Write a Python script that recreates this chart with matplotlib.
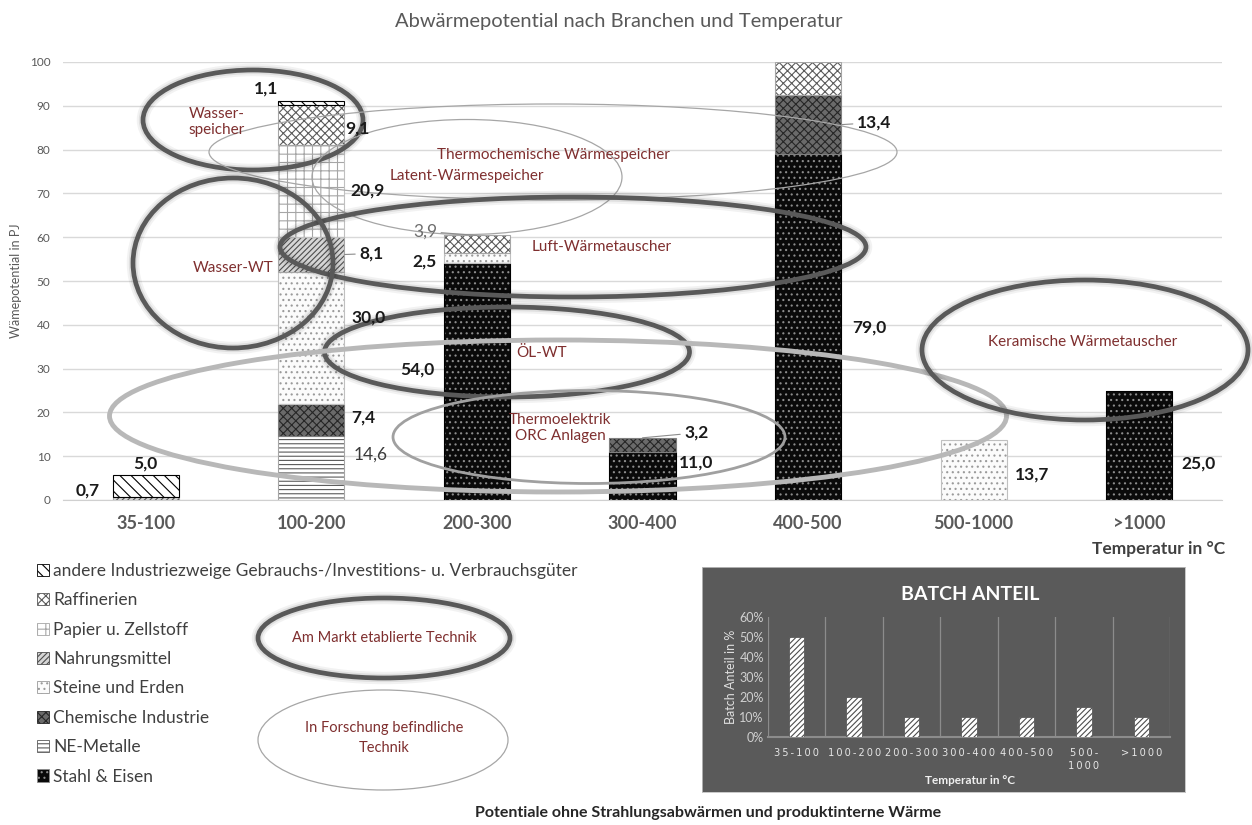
import matplotlib
matplotlib.use("Agg")
import matplotlib.pyplot as plt
from matplotlib.patches import Ellipse, Patch
from matplotlib.transforms import Affine2D
import numpy as np

plt.rcParams['font.family'] = ['Lato', 'DejaVu Sans']
plt.rcParams['hatch.linewidth'] = 0.8

# ---------------------------------------------------------------- data
categories = ["35-100", "100-200", "200-300", "300-400", "400-500", "500-1000", ">1000"]

stahl_eisen    = [0.0, 0.0, 54.0, 11.0, 79.0, 0.0, 25.0]
ne_metalle     = [0.0, 14.6, 0.0, 0.0, 0.0, 0.0, 0.0]
chemie         = [0.0, 7.4, 0.0, 3.2, 13.4, 0.0, 0.0]
steine_erden   = [0.0, 30.0, 2.5, 0.0, 0.0, 13.7, 0.0]
nahrungsmittel = [0.7, 8.1, 0.0, 0.0, 0.0, 0.0, 0.0]
papier         = [0.0, 20.9, 0.0, 0.0, 0.0, 0.0, 0.0]
raffinerien    = [0.0, 9.1, 3.9, 0.0, 7.6, 0.0, 0.0]
andere         = [5.0, 1.1, 0.0, 0.0, 0.0, 0.0, 0.0]

series_names = [
    "Stahl & Eisen",
    "NE-Metalle",
    "Chemische Industrie",
    "Steine und Erden",
    "Nahrungsmittel",
    "Papier u. Zellstoff",
    "Raffinerien",
    "andere Industriezweige Gebrauchs-/Investitions- u. Verbrauchsgüter",
]
series_values = [stahl_eisen, ne_metalle, chemie, steine_erden,
                 nahrungsmittel, papier, raffinerien, andere]

batch_share = [50, 20, 10, 10, 10, 15, 10]   # percent

# ---------------------------------------------------------------- styles
# face colour, hatch, hatch colour, outline colour
styles = [
    ('#0a0a0a', '...',    '#8c8c8c', '#000000'),
    ('#ffffff', '----',   '#5a5a5a', '#a6a6a6'),
    ('#6a6a6a', 'xxxx',   '#262626', '#7f7f7f'),
    ('#fbfbfb', '...',    '#9a9a9a', '#c0c0c0'),
    ('#d6d6d6', '//////', '#4d4d4d', '#a6a6a6'),
    ('#ffffff', '++',     '#a6a6a6', '#c0c0c0'),
    ('#ffffff', 'xxxx',   '#5a5a5a', '#a6a6a6'),
    ('#ffffff', '\\\\\\', '#000000', '#000000'),
]

W, H = 1252, 825
fig = plt.figure(figsize=(W / 100, H / 100), dpi=100)
# layout transform in pixels measured from the top-left corner
pix = Affine2D().scale(1 / W, -1 / H).translate(0, 1) + fig.transFigure

def fx(x):
    return x / W

def fy(y):
    return 1 - y / H

# ---------------------------------------------------------------- main chart
ax = fig.add_axes([fx(63), fy(500), (1222 - 63) / W, 438 / H])
x = np.arange(len(categories))
bar_w = 0.4
bottom = np.zeros(len(categories))
for vals, (face, hatch, hcol, outline) in zip(series_values, styles):
    vals = np.asarray(vals)
    idx = np.nonzero(vals > 0)[0]
    ax.bar(x[idx], vals[idx], bar_w, bottom=bottom[idx], color=face,
           edgecolor=hcol, hatch=hatch, linewidth=0, zorder=2)
    ax.bar(x[idx], vals[idx], bar_w, bottom=bottom[idx], fill=False,
           edgecolor=outline, linewidth=0.8, zorder=3)
    bottom += vals

ax.set_xlim(-0.5, len(categories) - 0.5)
ax.set_ylim(0, 100)
ax.set_yticks(np.arange(0, 101, 10))
ax.grid(axis='y', color='#d9d9d9', linewidth=1, zorder=0)
ax.set_axisbelow(True)
for s in ['top', 'right', 'left']:
    ax.spines[s].set_visible(False)
ax.spines['bottom'].set_color('#d0d0d0')
ax.tick_params(axis='y', length=0, pad=9, labelsize=8.5, labelcolor='#595959')
ax.tick_params(axis='x', length=0, pad=11, labelsize=13, labelcolor='#595959')
ax.set_xticks(x)
ax.set_xticklabels(categories, fontweight='bold')


def fmt(v):
    return f"{v:.1f}".replace('.', ',')


# value labels: (series, category, anchor, dx, dy, style, leader)
# anchor 'mid' = centre of the segment, 'edge' = right edge, 'top' = segment top
label_specs = [
    (4, 0, 'mid', -58, 8, 'b', False),
    (7, 0, 'mid', 0, 22, 'b', False),
    (7, 1, 'mid', -45, 14, 'b', False),
    (6, 1, 'mid', 46, -3, 'b', False),
    (5, 1, 'mid', 56, 0, 'b', False),
    (4, 1, 'edge', 27, 1, 'b', True),
    (3, 1, 'mid', 57, 20, 'b', False),
    (2, 1, 'mid', 52, 2, 'b', False),
    (1, 1, 'mid', 59, 13, 'n', False),
    (6, 2, 'top', -52, 4, 'g', True),
    (3, 2, 'mid', -52, -4, 'b', False),
    (0, 2, 'mid', -60, 12, 'b', False),
    (2, 3, 'top', 54, 5, 'b', True),
    (0, 3, 'mid', 54, 13, 'b', False),
    (2, 4, 'edge', 33, 2, 'b', True),
    (0, 4, 'mid', 61, -1, 'b', False),
    (3, 5, 'mid', 58, -5, 'b', False),
    (0, 6, 'mid', 59, -18, 'b', False),
]
cum = np.cumsum(np.vstack([np.zeros(len(categories))] + [np.asarray(v) for v in series_values]), axis=0)
for si, ci, anchor, dx, dy, st, leader in label_specs:
    v = series_values[si][ci]
    base = cum[si][ci]
    if anchor == 'mid':
        xy = (ci, base + v / 2)
    elif anchor == 'edge':
        xy = (ci + bar_w / 2, base + v / 2)
    else:
        xy = (ci, base + v)
    color = {'b': '#1a1a1a', 'n': '#3a3a3a', 'g': '#6e6e6e'}[st]
    weight = 'bold' if st == 'b' else 'normal'
    arrow = dict(arrowstyle='-', color='#8c8c8c', lw=0.8, shrinkA=1, shrinkB=0) if leader else None
    ax.annotate(fmt(v), xy=xy, xytext=(dx, dy), textcoords='offset pixels',
                ha='center', va='center', fontsize=12.5, fontweight=weight,
                color=color, arrowprops=arrow, zorder=7, annotation_clip=False)

# ---------------------------------------------------------------- technology ellipses
ellipse_kinds = {
    'market':   dict(color='#595959', lw=3.4, halo=True),
    'research': dict(color='#a6a6a6', lw=0.9, halo=False),
    'wide':     dict(color='#b8b8b8', lw=3.5, halo=False),
    'mid':      dict(color='#a0a0a0', lw=2.0, halo=False),
}


def draw_ellipse(container, cx, cy, w, h, kind, z=5):
    k = ellipse_kinds[kind]
    if k['halo']:
        for lw, a in [(9, 0.05), (6, 0.08)]:
            e = Ellipse((cx, cy), w, h, fill=False, edgecolor='black', alpha=a,
                        linewidth=lw, transform=pix, clip_on=False, zorder=z)
            container.add_artist(e) if container is fig else container.add_patch(e)
    e = Ellipse((cx, cy), w, h, fill=False, edgecolor=k['color'], linewidth=k['lw'],
                transform=pix, clip_on=False, zorder=z)
    container.add_artist(e) if container is fig else container.add_patch(e)


chart_ellipses = [
    (253, 120, 220, 100, 'market'),
    (553, 152, 688, 96, 'research'),
    (467, 177, 310, 115, 'research'),
    (573, 247, 586, 100, 'market'),
    (233, 263, 200, 170, 'market'),
    (507, 352, 365, 90, 'market'),
    (558, 416, 897, 152, 'wide'),
    (589, 437, 392, 93, 'mid'),
    (1085, 350, 326, 140, 'market'),
]
for cx, cy, w, h, kind in chart_ellipses:
    draw_ellipse(ax, cx, cy, w, h, kind)

tech_red = '#7f2f2f'
chart_notes = [
    ("Wasser-\nspeicher", 217, 122),
    ("Thermochemische Wärmespeicher", 553, 155),
    ("Latent-Wärmespeicher", 467, 176),
    ("Luft-Wärmetauscher", 602, 247),
    ("Wasser-WT", 233, 268),
    ("ÖL-WT", 542, 353),
    ("Thermoelektrik\nORC Anlagen", 560, 428),
    ("Keramische Wärmetauscher", 1083, 342),
]
for txt, tx, ty in chart_notes:
    ax.text(tx, ty, txt, transform=pix, ha='center', va='center', fontsize=11,
            color=tech_red, linespacing=1.15, zorder=8, clip_on=False)

# ---------------------------------------------------------------- figure texts
fig.text(fx(619), fy(22), "Abwärmepotential nach Branchen und Temperatur",
         ha='center', va='center', fontsize=14.5, color='#595959')
fig.text(fx(16), fy(281), "Wämepotential in PJ", rotation=90, ha='center',
         va='center', fontsize=9, color='#595959')
fig.text(fx(1225), fy(549), "Temperatur in °C", ha='right', va='center',
         fontsize=12.5, fontweight='bold', color='#404040')
fig.text(fx(708), fy(813), "Potentiale ohne Strahlungsabwärmen und produktinterne Wärme",
         ha='center', va='center', fontsize=11.5, fontweight='bold', color='#262626')

# legend (reverse stacking order)
handles = [Patch(facecolor=f, edgecolor=hc, hatch=h, linewidth=0.6)
           for f, h, hc, _ in styles]
fig.legend(handles[::-1], series_names[::-1], loc='upper left',
           bbox_to_anchor=(fx(30), fy(556)), frameon=False, fontsize=12.5,
           labelcolor='#404040', handlelength=0.7, handleheight=0.7,
           handletextpad=0.25, labelspacing=0.77, borderaxespad=0)

# legend ellipses
draw_ellipse(fig, 384, 638, 252, 80, 'market')
draw_ellipse(fig, 383, 740, 250, 100, 'research')
fig.text(fx(384), fy(638), "Am Markt etablierte Technik", ha='center', va='center',
         fontsize=10.5, color=tech_red)
fig.text(fx(384), fy(738), "In Forschung befindliche\nTechnik", ha='center',
         va='center', fontsize=10.5, color=tech_red, linespacing=1.5)

# ---------------------------------------------------------------- batch inset
bg = fig.add_axes([fx(702), fy(792), (1185 - 702) / W, (792 - 567) / H], zorder=1)
bg.set_facecolor('#5a5a5a')
bg.set_xticks([])
bg.set_yticks([])
for s in bg.spines.values():
    s.set_color('#bfbfbf')
    s.set_linewidth(0.6)

ins = fig.add_axes([fx(768), fy(737), (1170 - 768) / W, 120 / H], zorder=2)
ins.patch.set_alpha(0)
ins.bar(x, batch_share, 0.27, color='white', edgecolor='#4d4d4d',
        hatch='//////', linewidth=0.5, zorder=3)
ins.set_xlim(-0.5, len(categories) - 0.5)
ins.set_ylim(0, 60)
ins.set_yticks(np.arange(0, 61, 10))
ins.set_yticklabels([f"{v}%" for v in range(0, 61, 10)])
ins.set_xticks(x)


def spaced(label):
    lines = label.replace('-', '-\n') if len(label) > 7 else label
    return '\n'.join('\u2009'.join(line) for line in lines.split('\n'))


ins.set_xticklabels([spaced(c) for c in categories], family='DejaVu Sans',
                    fontsize=7.1, color='#e6e6e6', linespacing=1.3)
ins.set_xticks(np.arange(-0.5, len(categories), 1), minor=True)
ins.grid(which='minor', axis='x', color='#8c8c8c', linewidth=0.9, zorder=0)
ins.tick_params(which='both', length=0)
ins.tick_params(axis='y', labelsize=9, labelcolor='#d0d0d0', pad=3)
ins.tick_params(axis='x', pad=8)
for s in ['top', 'right', 'left']:
    ins.spines[s].set_visible(False)
ins.spines['bottom'].set_color('#8c8c8c')
ins.spines['bottom'].set_linewidth(1.5)
ins.set_ylabel("Batch Anteil in %", fontsize=9, color='#e0e0e0', labelpad=2)
fig.text(fx(970), fy(781), "Temperatur in °C", ha='center', va='center',
         fontsize=8.5, fontweight='bold', color='#f0f0f0', zorder=3)
fig.text(fx(970), fy(595), "BATCH ANTEIL", ha='center', va='center',
         fontsize=14, fontweight='bold', color='white', zorder=3)

fig.savefig("out.png", dpi=100, facecolor='white')
